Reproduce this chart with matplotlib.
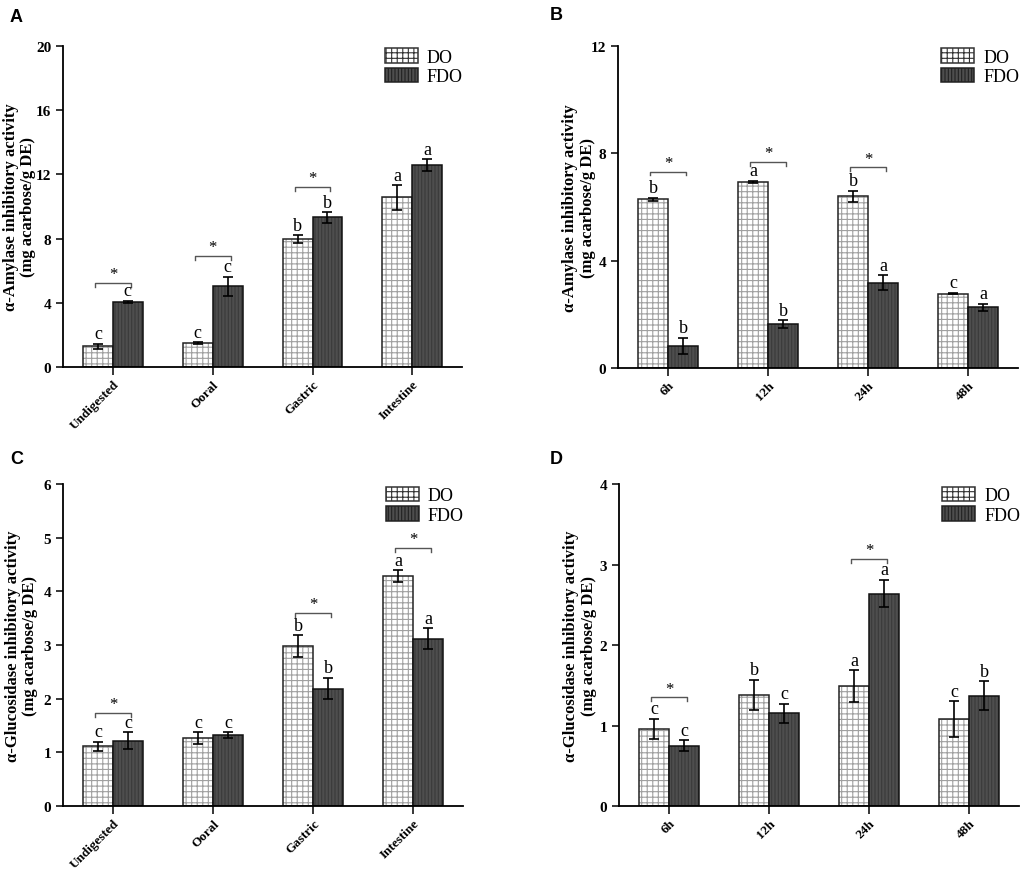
import matplotlib
matplotlib.use('Agg')
import matplotlib.pyplot as plt
import numpy as np

plt.rcParams['font.family'] = ['Liberation Serif', 'DejaVu Serif']
plt.rcParams['hatch.linewidth'] = 0.8

# ---- data ----
stages = ['Undigested', 'Ooral', 'Gastric', 'Intestine']
times = ['6h', '12h', '24h', '48h']

amy_stage_do = [1.28, 1.51, 7.98, 10.57]
amy_stage_do_err = [0.17, 0.05, 0.24, 0.77]
amy_stage_fdo = [4.04, 5.02, 9.33, 12.58]
amy_stage_fdo_err = [0.08, 0.60, 0.33, 0.36]
amy_stage_let_do = ['c', 'c', 'b', 'a']
amy_stage_let_fdo = ['c', 'c', 'b', 'a']
amy_stage_star = [5.25, 6.9, 11.2, None]

amy_time_do = [6.28, 6.94, 6.40, 2.77]
amy_time_do_err = [0.07, 0.04, 0.20, 0.03]
amy_time_fdo = [0.82, 1.63, 3.18, 2.26]
amy_time_fdo_err = [0.31, 0.14, 0.27, 0.14]
amy_time_let_do = ['b', 'a', 'b', 'c']
amy_time_let_fdo = ['b', 'b', 'a', 'a']
amy_time_star = [7.32, 7.67, 7.47, None]

glu_stage_do = [1.11, 1.27, 2.98, 4.29]
glu_stage_do_err = [0.09, 0.11, 0.20, 0.11]
glu_stage_fdo = [1.22, 1.32, 2.19, 3.12]
glu_stage_fdo_err = [0.155, 0.06, 0.20, 0.20]
glu_stage_let_do = ['c', 'c', 'b', 'a']
glu_stage_let_fdo = ['c', 'c', 'b', 'a']
glu_stage_star = [1.74, None, 3.60, 4.81]

glu_time_do = [0.96, 1.38, 1.49, 1.08]
glu_time_do_err = [0.125, 0.19, 0.20, 0.22]
glu_time_fdo = [0.75, 1.15, 2.64, 1.37]
glu_time_fdo_err = [0.07, 0.12, 0.17, 0.18]
glu_time_let_do = ['c', 'b', 'a', 'c']
glu_time_let_fdo = ['c', 'c', 'a', 'b']
glu_time_star = [1.35, None, 3.07, None]


def panel(ax, cats, do, do_err, fdo, fdo_err, let_do, let_fdo, stars,
          ymax, yticks, ylabel, label_x):
    x = np.arange(len(cats))
    w = 0.3
    # DO: white with light grey grid
    ax.bar(x - w / 2, do, w, color='white', edgecolor='#a0a0a0', hatch='+++', linewidth=0)
    ax.bar(x - w / 2, do, w, color='none', edgecolor='#222222', linewidth=1.1, label='DO')
    # FDO: dark grey with fine texture
    ax.bar(x + w / 2, fdo, w, color='#4e4e4e', edgecolor='#3a3a3a', hatch='|||||', linewidth=0)
    ax.bar(x + w / 2, fdo, w, color='none', edgecolor='#111111', linewidth=1.1, label='FDO')
    ax.errorbar(x - w / 2, do, yerr=do_err, fmt='none', ecolor='black', elinewidth=1.2, capsize=3.5, capthick=1.2)
    ax.errorbar(x + w / 2, fdo, yerr=fdo_err, fmt='none', ecolor='black', elinewidth=1.2, capsize=3.5, capthick=1.2)

    for i in range(len(cats)):
        ax.annotate(let_do[i], (x[i] - w / 2, do[i] + do_err[i]), xytext=(0, 1), textcoords='offset points',
                    ha='center', va='bottom', fontsize=13)
        ax.annotate(let_fdo[i], (x[i] + w / 2, fdo[i] + fdo_err[i]), xytext=(0, 1), textcoords='offset points',
                    ha='center', va='bottom', fontsize=13)
        if stars[i] is not None:
            y = stars[i]
            d = ymax * 0.012
            x0, x1 = x[i] - w / 2 - 0.03, x[i] + w / 2 + 0.03
            ax.plot([x0, x0, x1, x1], [y - d, y, y, y - d], color='#555555', lw=1.0)
            ax.text(x[i], y + d * 0.2, '*', ha='center', va='bottom', fontsize=12)

    ax.set_xlim(-0.5, 3.5)
    ax.set_ylim(0, ymax)
    ax.set_yticks(yticks)
    ax.set_xticks(x)
    ax.set_xticklabels(cats, rotation=45, ha='right', va='top', rotation_mode='anchor',
                       fontsize=9.5, fontweight='bold')
    ax.set_yticklabels([str(t) for t in yticks], fontsize=11, fontweight='bold')
    ax.tick_params(direction='out', length=5, width=1.1)
    ax.tick_params(axis='x', length=6, pad=2)
    for s in ['top', 'right']:
        ax.spines[s].set_visible(False)
    for s in ['left', 'bottom']:
        ax.spines[s].set_linewidth(1.3)
    ax.set_ylabel(ylabel, fontsize=12, fontweight='bold', linespacing=1.1)
    ax.yaxis.set_label_coords(label_x, 0.5)
    leg = ax.legend(loc='upper right', frameon=False, fontsize=13, handlelength=1.85, handleheight=0.85,
                    labelspacing=0.12, borderaxespad=0.0, handletextpad=0.5, bbox_to_anchor=(1.02, 1.015))
    hs = leg.legend_handles
    hs[0].set_facecolor('white')
    hs[0].set_hatch('+++')
    hs[0].set_edgecolor('#333333')
    hs[1].set_facecolor('#4e4e4e')
    hs[1].set_hatch('|||||')
    hs[1].set_edgecolor('#222222')


fig = plt.figure(figsize=(10.21, 8.7), dpi=100)
axA = fig.add_axes([0.0617, 0.577, 0.391, 0.369])
axB = fig.add_axes([0.6053, 0.576, 0.392, 0.370])
axC = fig.add_axes([0.0617, 0.0724, 0.392, 0.370])
axD = fig.add_axes([0.6063, 0.0724, 0.392, 0.370])

amy_lab = '\u03b1-Amylase inhibitory activity\n(mg acarbose/g DE)'
glu_lab = '\u03b1-Glucosidase inhibitory activity\n(mg acarbose/g DE)'

panel(axA, stages, amy_stage_do, amy_stage_do_err, amy_stage_fdo, amy_stage_fdo_err,
      amy_stage_let_do, amy_stage_let_fdo, amy_stage_star, 20, [0, 4, 8, 12, 16, 20], amy_lab, -0.068)
panel(axB, times, amy_time_do, amy_time_do_err, amy_time_fdo, amy_time_fdo_err,
      amy_time_let_do, amy_time_let_fdo, amy_time_star, 12, [0, 4, 8, 12], amy_lab, -0.056)
panel(axC, stages, glu_stage_do, glu_stage_do_err, glu_stage_fdo, glu_stage_fdo_err,
      glu_stage_let_do, glu_stage_let_fdo, glu_stage_star, 6, [0, 1, 2, 3, 4, 5, 6], glu_lab, -0.063)
panel(axD, times, glu_time_do, glu_time_do_err, glu_time_fdo, glu_time_fdo_err,
      glu_time_let_do, glu_time_let_fdo, glu_time_star, 4, [0, 1, 2, 3, 4], glu_lab, -0.056)

for lab, (px, py) in zip('ABCD', [(10, 17), (550, 15), (10, 460), (550, 460)]):
    fig.text(px / 1021, 1 - py / 870, lab, fontsize=13, fontweight='bold', family='Liberation Sans',
             ha='left', va='center')

fig.savefig('out.png', dpi=100)
